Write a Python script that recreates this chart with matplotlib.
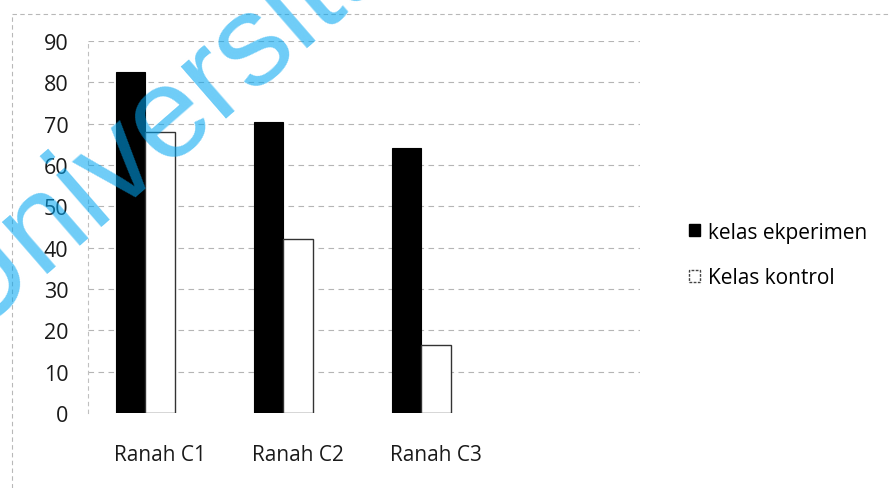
import matplotlib.pyplot as plt
import numpy as np
from matplotlib.patches import Patch
from matplotlib.lines import Line2D

categories = ['Ranah C1', 'Ranah C2', 'Ranah C3']
eksperimen = [82.5, 70.5, 64.0]
kontrol = [68.0, 42.0, 16.5]
series_labels = ['kelas ekperimen', 'Kelas kontrol']
y_ticks = list(range(0, 100, 10))

plt.rcParams['font.family'] = ['Open Sans', 'DejaVu Sans']

fig = plt.figure(figsize=(8.89, 4.89), dpi=100)
ax = fig.add_axes([88 / 889, 1 - 414 / 489, 552 / 889, 372 / 489])

x = np.arange(len(categories))
width = 0.21
ax.bar(x - width / 2, eksperimen, width, color='black', edgecolor='black', linewidth=0.8, zorder=3)
ax.bar(x + width / 2 + 0.005, kontrol, width + 0.01, color='white', edgecolor='#333333', linewidth=1.0, zorder=3)

ax.set_ylim(0, 90)
ax.set_xlim(-0.413, 3.587)
ax.set_yticks(y_ticks)
ax.set_yticklabels([str(v) for v in y_ticks], fontsize=15.5)
ax.set_xticks(x + 0.11)
ax.set_xticklabels(categories, fontsize=15)
ax.tick_params(axis='both', length=0, colors='#1a1a1a')
ax.tick_params(axis='y', pad=14)
ax.tick_params(axis='x', pad=22)

# faint dashed gridlines
for v in y_ticks[1:]:
    ax.axhline(v, color='#b5b5b5', linestyle=(0, (5, 4)), linewidth=0.8, zorder=1)
for s in ['top', 'right', 'bottom']:
    ax.spines[s].set_visible(False)
ax.spines['left'].set_color('#c0c0c0')
ax.spines['left'].set_linestyle((0, (3, 4)))
ax.spines['left'].set_linewidth(0.8)

handles = [
    Patch(facecolor='black', edgecolor='black'),
    Patch(facecolor='white', edgecolor='#444444', linestyle=(0, (2, 1)), linewidth=1.0),
]
fig.legend(handles, series_labels, loc='center left', bbox_to_anchor=(670 / 889, 1 - 256 / 489),
           frameon=False, fontsize=15, handlelength=0.55, handleheight=0.55,
           handletextpad=0.35, labelspacing=1.2)

# chart area outline
fig.add_artist(Line2D([12 / 889, 1], [1 - 15 / 489, 1 - 15 / 489], color='#b8b8b8',
                      linestyle=(0, (4, 3)), linewidth=0.8))
fig.add_artist(Line2D([12 / 889, 12 / 889], [0, 1 - 15 / 489], color='#b8b8b8',
                      linestyle=(0, (4, 3)), linewidth=0.8))

# watermark
fig.text(-32 / 889, 1 - 334 / 489, 'Universitas', color=(0.0, 0.65, 0.95), alpha=0.57,
         fontsize=93, family='Liberation Sans', rotation=41,
         rotation_mode='anchor', ha='left', va='baseline', zorder=10)

fig.savefig('out.png', dpi=100)
